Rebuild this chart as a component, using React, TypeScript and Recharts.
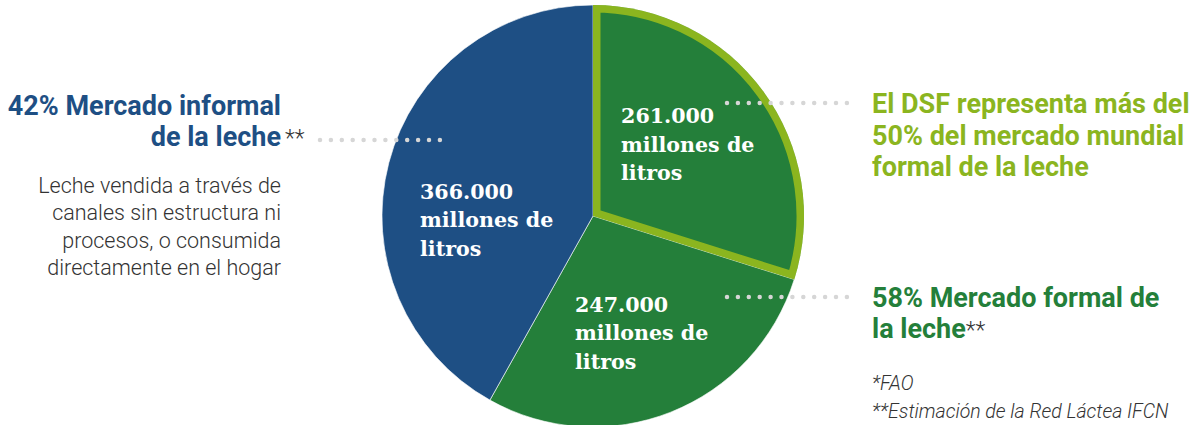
import React from "react";
import { PieChart, Pie, Cell, Sector } from "recharts";

const sliceNames = ["DSF", "Formal", "Informal"];
const sliceValues = [261000, 247000, 366000];
const sliceAmounts = ["261.000", "247.000", "366.000"];
const sliceColors = ["#247f3a", "#247f3a", "#1e4f84"];
// where each slice label block sits: share of radius, and turn from the mid angle
const labelRadius = [0.545, 0.63, 0.505];
const labelTurn = [-2, 0, 20.5];

const BLUE = "#1e4f84";
const GREEN = "#247f3a";
const LIME = "#8bb51f";
const DOTS = "#d6d6d6";

const chartData = sliceNames.map((name, i) => ({ name, value: sliceValues[i] }));

const RAD = Math.PI / 180;

/** Slice label; the DSF slice also gets its inner lime outline here */
function SliceLabel(props: any) {
  const { cx, cy, midAngle, outerRadius, innerRadius, startAngle, endAngle, index } = props;
  const r = outerRadius * labelRadius[index];
  const a = (midAngle + labelTurn[index]) * RAD;
  const x = cx + r * Math.cos(a) - 67;
  const y = cy - r * Math.sin(a) - 28;
  const lineH = 28.5;
  const lines = [sliceAmounts[index], "millones de", "litros"];
  return (
    <g>
      {index === 0 && (
        <>
          <defs>
            <clipPath id="dsf-clip">
              <Sector
                cx={cx}
                cy={cy}
                innerRadius={innerRadius}
                outerRadius={outerRadius}
                startAngle={startAngle}
                endAngle={endAngle}
              />
            </clipPath>
          </defs>
          <Sector
            cx={cx}
            cy={cy}
            innerRadius={innerRadius}
            outerRadius={outerRadius}
            startAngle={startAngle}
            endAngle={endAngle}
            fill="none"
            stroke={LIME}
            strokeWidth={15}
            clipPath="url(#dsf-clip)"
          />
        </>
      )}
      <text
        x={x}
        y={y}
        fill="#fff"
        fontFamily="'DejaVu Serif', serif"
        fontWeight={700}
        fontSize={20.6}
      >
        {lines.map((line, i) => (
          <tspan key={i} x={x} dy={i === 0 ? 0 : lineH}>
            {line}
          </tspan>
        ))}
      </text>
    </g>
  );
}

function DottedLine({ x1, x2, y }: { x1: number; x2: number; y: number }) {
  return (
    <line
      x1={x1}
      x2={x2}
      y1={y}
      y2={y}
      stroke={DOTS}
      strokeWidth={4.5}
      strokeLinecap="round"
      strokeDasharray="0 10.9"
    />
  );
}

const bold = { fontFamily: "Roboto, sans-serif", fontWeight: 700, fontSize: 27 } as const;
const light = { fontFamily: "Roboto, sans-serif", fontWeight: 300 } as const;

export default function App() {
  return (
    <div
      style={{
        position: "absolute",
        left: 0,
        top: 0,
        width: 1200,
        height: 425,
        background: "#fff",
        overflow: "hidden",
      }}
    >
      <PieChart width={1200} height={425} margin={{ top: 0, right: 0, bottom: 0, left: 0 }}>
        <Pie
          data={chartData}
          dataKey="value"
          nameKey="name"
          cx={593}
          cy={216}
          outerRadius={211}
          startAngle={90}
          endAngle={-270}
          stroke="#ffffff"
          strokeWidth={0.6}
          label={SliceLabel}
          labelLine={false}
          isAnimationActive={false}
        >
          {chartData.map((d, i) => (
            <Cell key={d.name} fill={sliceColors[i]} />
          ))}
        </Pie>
      </PieChart>
      <svg
        width={1200}
        height={425}
        style={{ position: "absolute", left: 0, top: 0, pointerEvents: "none" }}
      >
        <DottedLine x1={320} x2={448} y={140} />
        <DottedLine x1={727} x2={855} y={103} />
        <DottedLine x1={727} x2={855} y={297} />

        <text x={281} y={115} textAnchor="end" fill={BLUE} {...bold}>
          42% Mercado informal
        </text>
        <text x={281} y={146} textAnchor="end" fill={BLUE} {...bold}>
          de la leche
        </text>
        <text x={285} y={146} fill="#333" {...light} fontSize={23}>
          **
        </text>
        {[
          "Leche vendida a través de",
          "canales sin estructura ni",
          "procesos, o consumida",
          "directamente en el hogar",
        ].map((t, i) => (
          <text key={t} x={281} y={193 + i * 27.3} textAnchor="end" fill="#333" {...light} fontSize={21.5}>
            {t}
          </text>
        ))}

        {["El DSF representa más del", "50% del mercado mundial", "formal de la leche"].map((t, i) => (
          <text key={t} x={872} y={113 + i * 31.5} fill={LIME} {...bold}>
            {t}
          </text>
        ))}

        <text x={872} y={307} fill={GREEN} {...bold}>
          58% Mercado formal de
        </text>
        <text x={872} y={338} fill={GREEN} {...bold}>
          la leche
          <tspan fill="#333" fontWeight={300} fontSize={23}>
            **
          </tspan>
        </text>
        <text x={872} y={390} fill="#333" {...light} fontStyle="italic" fontSize={19.5}>
          *FAO
        </text>
        <text x={872} y={418} fill="#333" {...light} fontStyle="italic" fontSize={19.5}>
          **Estimación de la Red Láctea IFCN
        </text>
      </svg>
    </div>
  );
}
